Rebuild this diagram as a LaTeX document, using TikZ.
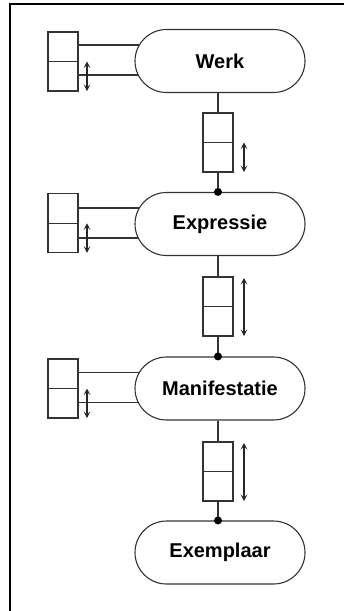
\documentclass[tikz,border=0pt]{standalone}
\usepackage{fontspec}
\setmainfont{Liberation Sans}
\usetikzlibrary{arrows.meta,calc}
\begin{document}
\begin{tikzpicture}[x=1pt,y=-1pt,
  line width=1.1pt,
  stadium/.style={draw=black!80,fill=white,rectangle,rounded corners=31.5pt,
    minimum width=170pt,minimum height=63pt,inner sep=0pt,
    font=\fontsize{20}{22}\selectfont\bfseries},
  cell/.style={draw=black!80,rectangle,minimum width=30pt,minimum height=29.5pt,
    inner sep=0pt,outer sep=0pt},
  conn/.style={draw=black!80},
  dbl/.style={draw=black!85,{Stealth[length=6.5pt,width=6.5pt,inset=3pt]}-{Stealth[length=6.5pt,width=6.5pt,inset=3pt]}},
  dot/.style={circle,fill=black,inner sep=0pt,minimum size=8pt},
  frame/.style={line width=2.2pt,draw=black}]
\useasboundingbox (0,0) rectangle (344,611);
% frame (left and top edges)
\coordinate (ftl) at (10,4);
\coordinate (fbl) at (10,611);
\coordinate (ftr) at (344,4);
\draw[frame] (fbl) -- (ftl) -- (ftr);

% main entities
\node[stadium] (werk)  at (220,61)    {Werk};
\node[stadium] (expr)  at (220,224)   {Expressie};
\node[stadium] (manif) at (220,388.5) {Manifestatie};
\node[stadium] (exem)  at (220,552.5) {Exemplaar};

% side boxes
\node[cell] (s1t) at (63,46.75) {};
\node[cell,anchor=north] (s1b) at (s1t.south) {};
\node[cell] (s2t) at (63,208.5) {};
\node[cell,anchor=north] (s2b) at (s2t.south) {};
\node[cell] (s3t) at (63,373.75) {};
\node[cell,anchor=north] (s3b) at (s3t.south) {};

% vertical boxes
\node[cell] (v1t) at (218,127.75) {};
\node[cell,anchor=north] (v1b) at (v1t.south) {};
\node[cell] (v2t) at (218,291.75) {};
\node[cell,anchor=north] (v2b) at (v2t.south) {};
\node[cell] (v3t) at (218,456.75) {};
\node[cell,anchor=north] (v3b) at (v3t.south) {};

% side connectors (two parallel lines each)
\foreach \s/\e in {s1/werk,s2/expr,s3/manif}{
  \draw[conn] (\s t.east |- {$(\e.center)+(0,-16)$}) -- ($(\e.west)+(4.4,-16)$);
  \draw[conn] (\s b.east |- {$(\e.center)+(0,14)$}) -- ($(\e.west)+(3.3,14)$);
  \draw[dbl] ($(\s b.north east)+(9,0)$) -- ($(\s b.south east)+(9,0)$);
}

% vertical connectors
\draw[conn] (v1t.north |- werk.south) -- (v1t.north);
\draw[conn] (v1b.south) -- (v1b.south |- expr.north) node[dot] (d1) {};
\draw[conn] (v2t.north |- expr.south) -- (v2t.north);
\draw[conn] (v2b.south) -- (v2b.south |- manif.north) node[dot] (d2) {};
\draw[conn] (v3t.north |- manif.south) -- (v3t.north);
\draw[conn] (v3b.south) -- (v3b.south |- exem.north) node[dot] (d3) {};

% cardinality arrows next to vertical boxes
\draw[dbl] ($(v1b.north east)+(11,0)$) -- ($(v1b.south east)+(11,0)$);
\draw[dbl] ($(v2t.north east)+(11,1)$) -- ($(v2b.south east)+(11,0)$);
\draw[dbl] ($(v3t.north east)+(11,1)$) -- ($(v3b.south east)+(11,0)$);
\end{tikzpicture}
\end{document}
